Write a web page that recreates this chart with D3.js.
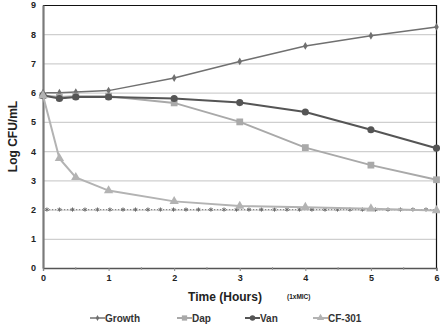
<!DOCTYPE html>
<html>
<head>
<meta charset="utf-8">
<script src="https://cdn.jsdelivr.net/npm/d3@7"></script>
<style>
  body { margin: 0; background: #fff; }
  svg { font-family: "Liberation Sans", Arial, sans-serif; font-weight: bold; }
</style>
</head>
<body>
<div id="chart"></div>
<script>
// time points (hours)
const hours = [0, 0.25, 0.5, 1, 2, 3, 4, 5, 6];
const growth = [6.0, 6.0, 6.02, 6.07, 6.5, 7.07, 7.6, 7.95, 8.25];
const dap = [5.9, 5.85, 5.88, 5.88, 5.65, 5.0, 4.12, 3.52, 3.02];
const van = [5.9, 5.8, 5.85, 5.85, 5.8, 5.66, 5.34, 4.73, 4.1];
const cf301 = [5.9, 3.75, 3.1, 2.65, 2.28, 2.12, 2.08, 2.03, 1.97];
const seriesNames = ["Growth", "Dap", "Van", "CF-301"];
const yTicks = [0, 1, 2, 3, 4, 5, 6, 7, 8, 9];
const xTicks = [0, 1, 2, 3, 4, 5, 6];
// 1xMIC reference level
const micLevel = 2;
const micTimes = [0.06, 0.25, 0.45, 0.64, 0.83, 1.02, 1.22, 1.41, 1.6, 1.79, 1.99,
  2.18, 2.37, 2.56, 2.76, 2.95, 3.14, 3.33, 3.53, 3.72, 3.91, 4.1, 4.3, 4.49,
  4.68, 4.87, 5.07, 5.26, 5.45, 5.64, 5.84];

const W = 440, H = 324;
const margin = { top: 5, right: 3, bottom: 56, left: 43 },
  width = W - margin.left - margin.right,
  height = H - margin.top - margin.bottom;

const svg = d3.select("#chart").append("svg").attr("width", W).attr("height", H);
const g = svg.append("g").attr("transform", `translate(${margin.left},${margin.top})`);

const x = d3.scaleLinear().domain([0, 6]).range([0, width - 0.5]);
const y = d3.scaleLinear().domain([0, 9]).range([height, 0]);

const styles = {
  Growth: { color: "#707070", width: 1.5, shape: "diamond" },
  Dap: { color: "#a9a9a9", width: 2, shape: "square" },
  Van: { color: "#555555", width: 2, shape: "circle" },
  "CF-301": { color: "#b3b3b3", width: 2, shape: "triangle" },
};
const symbolType = {
  diamond: [d3.symbolDiamond, 18],
  square: [d3.symbolSquare, 46],
  circle: [d3.symbolCircle, 40],
  triangle: [d3.symbolTriangle, 38],
};

// grid
g.append("g")
  .selectAll("line")
  .data(yTicks.slice(1, -1))
  .join("line")
  .attr("x1", 0).attr("x2", x(6))
  .attr("y1", (d) => y(d) + 0.5).attr("y2", (d) => y(d) + 0.5)
  .attr("stroke", "#cfcfcf").attr("stroke-width", 1.2);

// frame top / right
g.append("line").attr("x1", 0).attr("x2", x(6)).attr("y1", y(9) + 0.5).attr("y2", y(9) + 0.5)
  .attr("stroke", "#111").attr("stroke-width", 1);
g.append("line").attr("x1", x(6)).attr("x2", x(6)).attr("y1", y(9)).attr("y2", y(0))
  .attr("stroke", "#111").attr("stroke-width", 1.2);

// x axis
const xAxis = g.append("g").attr("transform", `translate(0,${height})`)
  .call(d3.axisBottom(x).tickValues(xTicks).tickFormat(d3.format("d")).tickSize(3).tickPadding(4));
xAxis.select(".domain").attr("stroke", "#555").attr("stroke-width", 1.3);
xAxis.selectAll(".tick line").attr("stroke", "#888");
xAxis.selectAll("text").attr("font-size", 9).attr("font-weight", "bold").attr("fill", "#222");
xAxis.append("g").selectAll("line")
  .data([0.5, 1.5, 2.5, 3.5, 4.5, 5.5])
  .join("line")
  .attr("x1", (d) => x(d)).attr("x2", (d) => x(d))
  .attr("y1", -1).attr("y2", 2)
  .attr("stroke", "#999");

// y axis
const yAxis = g.append("g")
  .call(d3.axisLeft(y).tickValues(yTicks).tickSize(0).tickPadding(7));
yAxis.select(".domain").attr("stroke", "#7a7a7a").attr("stroke-width", 2.2);
yAxis.selectAll("text").attr("font-size", 9).attr("font-weight", "bold").attr("fill", "#222");

// 1xMIC dotted line
g.append("line")
  .attr("x1", x(0)).attr("x2", x(6))
  .attr("y1", y(micLevel)).attr("y2", y(micLevel))
  .attr("stroke", "#8a8a8a").attr("stroke-width", 1.2)
  .attr("stroke-dasharray", "1.2,1.8");
g.append("g").selectAll("path")
  .data(micTimes)
  .join("path")
  .attr("transform", (d) => `translate(${x(d)},${y(micLevel)})`)
  .attr("d", d3.symbol(d3.symbolAsterisk, 12))
  .attr("stroke", "#6a6a6a").attr("stroke-width", 1).attr("fill", "none");

// series
const seriesData = [growth, dap, van, cf301];
const line = d3.line().x((d) => x(d[0])).y((d) => y(d[1]));
seriesNames.forEach((name, i) => {
  const st = styles[name];
  const pts = hours.map((h, j) => [h, seriesData[i][j]]);
  g.append("path")
    .datum(pts)
    .attr("d", line)
    .attr("fill", "none")
    .attr("stroke", st.color)
    .attr("stroke-width", st.width);
  const [type, size] = symbolType[st.shape];
  g.append("g").selectAll("path")
    .data(pts)
    .join("path")
    .attr("transform", (d) => `translate(${x(d[0])},${y(d[1])})`)
    .attr("d", d3.symbol(type, size))
    .attr("fill", st.color);
});

// axis titles
svg.append("text")
  .attr("transform", `translate(17,${margin.top + y(4.5)}) rotate(-90)`)
  .attr("text-anchor", "middle")
  .attr("font-size", 12)
  .attr("fill", "#222")
  .text("Log CFU/mL");
svg.append("text")
  .attr("x", 225).attr("y", 301)
  .attr("text-anchor", "middle")
  .attr("font-size", 12)
  .attr("fill", "#222")
  .text("Time (Hours)");
svg.append("text")
  .attr("x", 287).attr("y", 299)
  .attr("font-size", 6.5)
  .attr("fill", "#222")
  .text("(1xMIC)");

// legend
const legendX = [90, 177, 245, 313];
const legend = svg.append("g").selectAll("g")
  .data(seriesNames)
  .join("g")
  .attr("transform", (d, i) => `translate(${legendX[i]},318)`);
legend.append("line")
  .attr("x1", 0).attr("x2", 15)
  .attr("stroke", (d) => styles[d].color)
  .attr("stroke-width", (d) => styles[d].width);
legend.append("path")
  .attr("transform", "translate(7.5,0)")
  .attr("d", (d) => d3.symbol(symbolType[styles[d].shape][0], symbolType[styles[d].shape][1] * 0.6)())
  .attr("fill", (d) => styles[d].color);
legend.append("text")
  .attr("x", 15).attr("dy", "0.35em")
  .attr("font-size", 10)
  .attr("fill", "#333")
  .text((d) => d);
</script>
</body>
</html>
